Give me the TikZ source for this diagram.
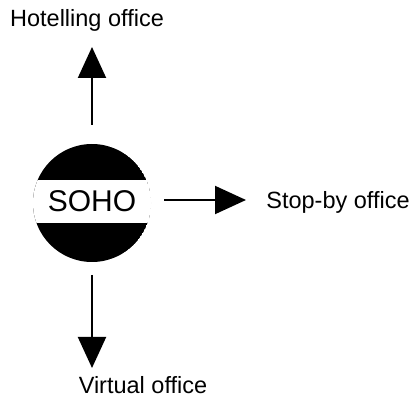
\documentclass[tikz,border=0pt]{standalone}
\usepackage{fontspec}
\setmainfont{Liberation Sans}
\usetikzlibrary{arrows.meta}
\begin{document}
\begin{tikzpicture}[x=1pt,y=-1pt,
  lbl/.style={inner sep=0pt,font=\fontsize{23.5}{27}\selectfont},
  arr/.style={line width=2pt,-{Triangle[length=31pt,width=28pt]}}]
\useasboundingbox (0,0) rectangle (413,401);
% SOHO disc
\begin{scope}
  \clip (92,203) circle (59);
  \fill[black] (92,203) circle (59);
  \fill[white] (20,180) rectangle (170,223);
\end{scope}
\node[inner sep=0pt,font=\fontsize{30}{34}\selectfont] (soho) at (92,201) {SOHO};
\coordinate (up0) at (92,125);
\coordinate (upT) at (92,47);
\coordinate (rt0) at (164,200);
\coordinate (rtT) at (246,200);
\coordinate (dn0) at (92,275);
\coordinate (dnT) at (92,368);
\node[lbl] (hot) at (87,20) {Hotelling office};
\node[lbl] (stop) at (338,202) {Stop-by office};
\node[lbl] (virt) at (143,385) {Virtual office};
\draw[arr] (up0) -- (upT);
\draw[arr] (rt0) -- (rtT);
\draw[arr] (dn0) -- (dnT);
\end{tikzpicture}
\end{document}
